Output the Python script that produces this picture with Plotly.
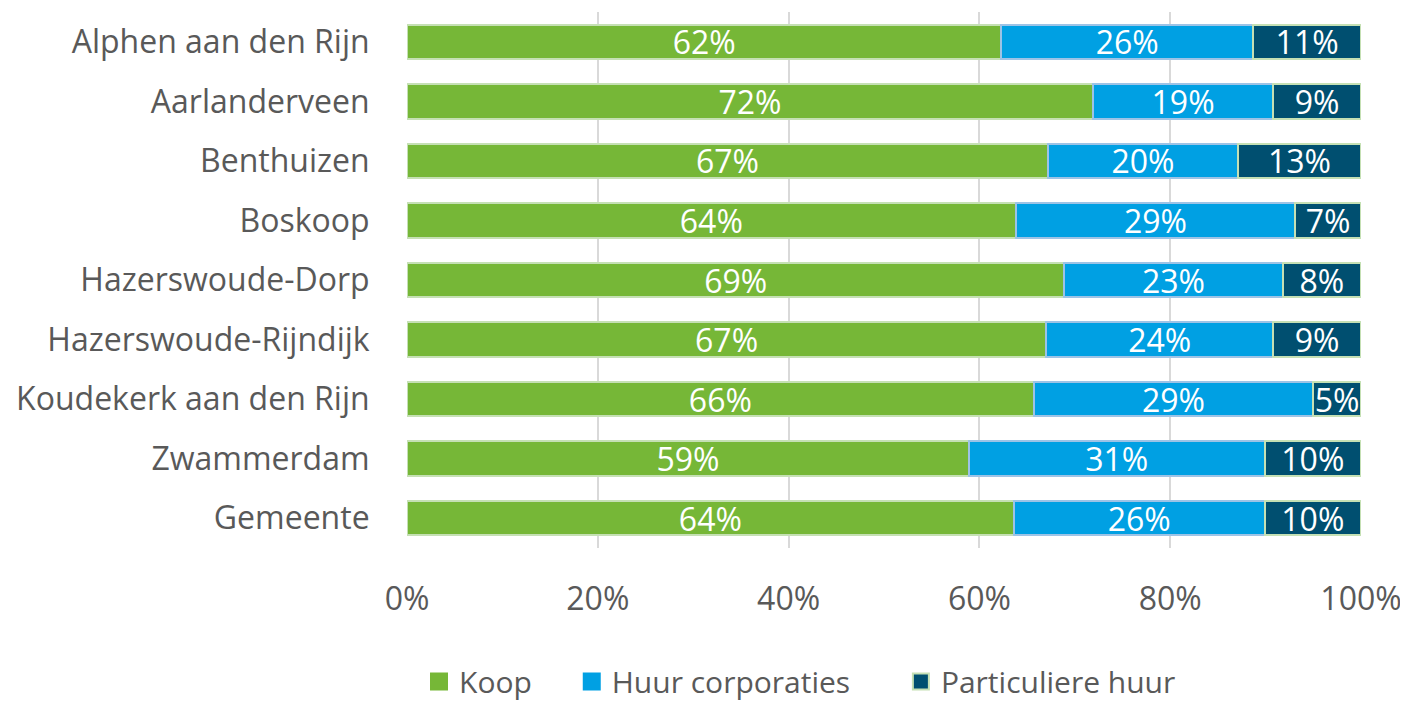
import plotly.graph_objects as go

categories = ["Alphen aan den Rijn", "Aarlanderveen", "Benthuizen", "Boskoop",
              "Hazerswoude-Dorp", "Hazerswoude-Rijndijk", "Koudekerk aan den Rijn",
              "Zwammerdam", "Gemeente"]
koop = [62.3, 71.9, 67.2, 63.8, 68.9, 67.0, 65.7, 58.9, 63.6]
huur_corporaties = [26.4, 18.9, 19.9, 29.3, 22.9, 23.8, 29.3, 31.0, 26.3]
particuliere_huur = [11.3, 9.2, 12.9, 6.9, 8.2, 9.2, 5.0, 10.1, 10.1]
tick_vals = [0, 20, 40, 60, 80, 100]
tick_text = ["0%", "20%", "40%", "60%", "80%", "100%"]

FONT = "Open Sans"
TXT = "#595959"
series = [
    ("Koop", koop, "#76b737", "#c5e0b4", "legend"),
    ("Huur corporaties", huur_corporaties, "#00a0e3", "#9dc3e6", "legend2"),
    ("Particuliere huur", particuliere_huur, "#004f70", "#c5e0b4", "legend3"),
]

fig = go.Figure()
for name, vals, color, edge, lg in series:
    fig.add_trace(go.Bar(
        name=name, y=categories, x=vals, orientation="h",
        marker=dict(color=color, line=dict(color=edge, width=2)),
        texttemplate="%{x:.0f}%", textposition="inside", insidetextanchor="middle",
        textfont=dict(color="white", size=32, family=FONT),
        constraintext="none", showlegend=False,
    ))
# legend entries with larger square swatches
for name, vals, color, edge, lg in series:
    fig.add_trace(go.Scatter(
        name=name, x=[None], y=[None], mode="markers", legend=lg,
        marker=dict(symbol="square", size=18, color=color,
                    line=dict(color=edge if name == "Particuliere huur" else color, width=2)),
        showlegend=True,
    ))

legend_common = dict(orientation="h", yanchor="middle", y=-0.249, xanchor="left",
                     font=dict(size=30, color=TXT, family=FONT), itemwidth=30,
                     bgcolor="rgba(0,0,0,0)")

fig.update_layout(
    barmode="stack", bargap=0.42,
    width=1400, height=693,
    margin=dict(l=399, r=47, t=4, b=153, autoexpand=False),
    paper_bgcolor="white", plot_bgcolor="white",
    font=dict(family=FONT, color=TXT, size=32),
    legend=dict(x=0.0126, **legend_common),
    legend2=dict(x=0.1727, **legend_common),
    legend3=dict(x=0.5177, **legend_common),
    xaxis=dict(range=[0, 100], tickvals=tick_vals, ticktext=tick_text,
               showgrid=True, gridcolor="#d9d9d9", gridwidth=2,
               zeroline=False, ticks="outside", ticklen=23, tickcolor="rgba(0,0,0,0)",
               tickfont=dict(size=32, color=TXT), fixedrange=True,
               automargin=False),
    yaxis=dict(categoryorder="array", categoryarray=categories,
               autorange="reversed", showgrid=False,
               ticks="outside", ticklen=30, tickcolor="rgba(0,0,0,0)",
               tickfont=dict(size=32, color=TXT), automargin=False),
)

fig.write_html("out.html")
